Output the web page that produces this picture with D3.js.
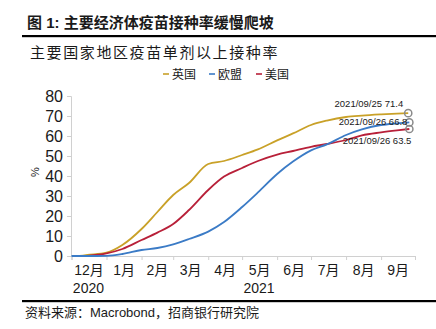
<!DOCTYPE html>
<html><head><meta charset="utf-8">
<script src="https://cdn.jsdelivr.net/npm/d3@7"></script>
<style>
body{margin:0;background:#fff;}
svg{display:block;}
text{font-family:"Liberation Sans","Noto Sans CJK SC",sans-serif;fill:#1a1a1a;}
</style></head>
<body>
<svg id="c" width="436" height="329"></svg>
<script>
const title = "图 1: 主要经济体疫苗接种率缓慢爬坡";
const subtitle = "主要国家地区疫苗单剂以上接种率";
const source = "资料来源：Macrobond，招商银行研究院";
const seriesNames = ["英国", "欧盟", "美国"];
const seriesColors = ["#c9a128", "#3b7bc6", "#b82039"];
const dates = ["2020-12-01","2020-12-08","2020-12-15","2021-01-01","2021-01-15","2021-02-01","2021-02-15","2021-03-01","2021-03-15","2021-04-01","2021-04-15","2021-05-01","2021-05-15","2021-06-01","2021-06-15","2021-07-01","2021-07-15","2021-08-01","2021-08-15","2021-09-01","2021-09-15"];
const ukValues = [null, 0, 0.5, 1.7, 5.5, 13.5, 22, 30.5, 36.5, 46, 47.5, 50.5, 53.3, 57.8, 61.3, 65.5, 67.7, 69.5, 70.2, 70.8, 71.2];
const euValues = [0, 0, 0, 0.1, 1.0, 3, 4, 5.8, 8.5, 12.2, 17, 24.5, 31.8, 41, 47.2, 52.8, 55.8, 60.5, 63.3, 65.5, 66.3];
const usValues = [null, null, 0.1, 1.3, 3.5, 8, 11.7, 16, 23, 33, 39.7, 44, 47.5, 50.7, 52.5, 54.6, 56, 58, 60.3, 61.8, 62.8];
const endDates = ["2021-09-25", "2021-09-26", "2021-09-26"];
const endValues = [71.4, 66.8, 63.5];
const yTicks = [0, 10, 20, 30, 40, 50, 60, 70, 80];
const yearLabels = [{d:"2020-12-16", t:"2020"}, {d:"2021-05-16", t:"2021"}];

const svg = d3.select("#c");
const parse = d3.timeParse("%Y-%m-%d");
const x = d3.scaleTime().domain([parse("2020-12-01"), parse("2021-10-01")]).range([71.5, 415]);
const y = d3.scaleLinear().domain([0, 80]).range([256, 96]);

// header
svg.append("text").attr("x", 27).attr("y", 28).attr("font-size", 15).attr("font-weight", "bold").text(title);
svg.append("rect").attr("x", 22).attr("y", 35).attr("width", 414).attr("height", 2.2).attr("fill", "#000");
svg.append("text").attr("x", 30).attr("y", 58).attr("font-size", 15).attr("letter-spacing", 1.6).attr("fill", "#333").text(subtitle);

// legend
const legX = [163, 209, 256];
seriesNames.forEach((n, i) => {
  svg.append("line").attr("x1", legX[i]).attr("x2", legX[i] + 6).attr("y1", 74).attr("y2", 74)
    .attr("stroke", seriesColors[i]).attr("stroke-width", 1.6);
  svg.append("text").attr("x", legX[i] + 9).attr("y", 78.5).attr("font-size", 12).attr("fill", "#333").text(n);
});

// y axis
const yAxis = svg.append("g").attr("transform", "translate(71,0)")
  .call(d3.axisLeft(y).tickValues(yTicks).tickSize(4).tickPadding(4));
yAxis.select(".domain").attr("stroke", "#d0d0d0");
yAxis.selectAll(".tick line").attr("stroke", "#d0d0d0");
yAxis.selectAll("text").attr("font-size", 16).attr("fill", "#222").attr("font-family", "Liberation Sans, Arial, sans-serif");
svg.append("text").attr("transform", "translate(39,172) rotate(-90)").attr("text-anchor", "middle")
  .attr("font-size", 11).attr("fill", "#333").text("%");

// x axis
const months = d3.timeMonth.range(parse("2020-12-01"), parse("2021-10-02"));
const xAxis = svg.append("g").attr("transform", "translate(0,256)")
  .call(d3.axisBottom(x).tickValues(months).tickSize(4).tickFormat(""));
xAxis.select(".domain").attr("stroke", "#d0d0d0");
xAxis.selectAll(".tick line").attr("stroke", "#d0d0d0");
months.slice(0, -1).forEach(m => {
  const mid = new Date((m.getTime() + d3.timeMonth.offset(m, 1).getTime()) / 2);
  svg.append("text").attr("x", x(mid)).attr("y", 275).attr("text-anchor", "middle")
    .attr("font-size", 14).attr("fill", "#222").text((m.getMonth() + 1) + "月");
});
yearLabels.forEach(l => {
  svg.append("text").attr("x", x(parse(l.d))).attr("y", 293).attr("text-anchor", "middle")
    .attr("font-size", 14).attr("fill", "#222").text(l.t);
});

// lines
const allValues = [ukValues, euValues, usValues];
const line = d3.line().defined(d => d.v != null).x(d => x(d.d)).y(d => y(d.v)).curve(d3.curveMonotoneX);
const order = [0, 2, 1];
order.forEach(i => {
  const pts = dates.map((d, k) => ({d: parse(d), v: allValues[i][k]}));
  pts.push({d: parse(endDates[i]), v: endValues[i]});
  svg.append("path").datum(pts).attr("d", line).attr("fill", "none")
    .attr("stroke", seriesColors[i]).attr("stroke-width", 1.8).attr("stroke-linejoin", "round");
});

// end markers and labels
const labelPos = [{dx: -5, y: 107, anchor: "end"}, {dx: -2, y: 125, anchor: "end"}, {dx: 2, y: 144, anchor: "end"}];
endValues.forEach((v, i) => {
  const cx = x(parse(endDates[i])), cy = y(v);
  svg.append("circle").attr("cx", cx).attr("cy", cy).attr("r", 3.6)
    .attr("fill", "none").attr("stroke", "#8a8a8a").attr("stroke-width", 1.5);
  svg.append("text").attr("x", cx + labelPos[i].dx).attr("y", labelPos[i].y).attr("text-anchor", labelPos[i].anchor)
    .attr("font-size", 9.5).attr("fill", "#222").text(endDates[i].replace(/-/g, "/") + " " + v.toFixed(1));
});

// footer
svg.append("rect").attr("x", 22).attr("y", 300).attr("width", 414).attr("height", 2.2).attr("fill", "#000");
svg.append("text").attr("x", 25).attr("y", 317).attr("font-size", 13).attr("fill", "#222").text(source);
</script>
</body></html>
